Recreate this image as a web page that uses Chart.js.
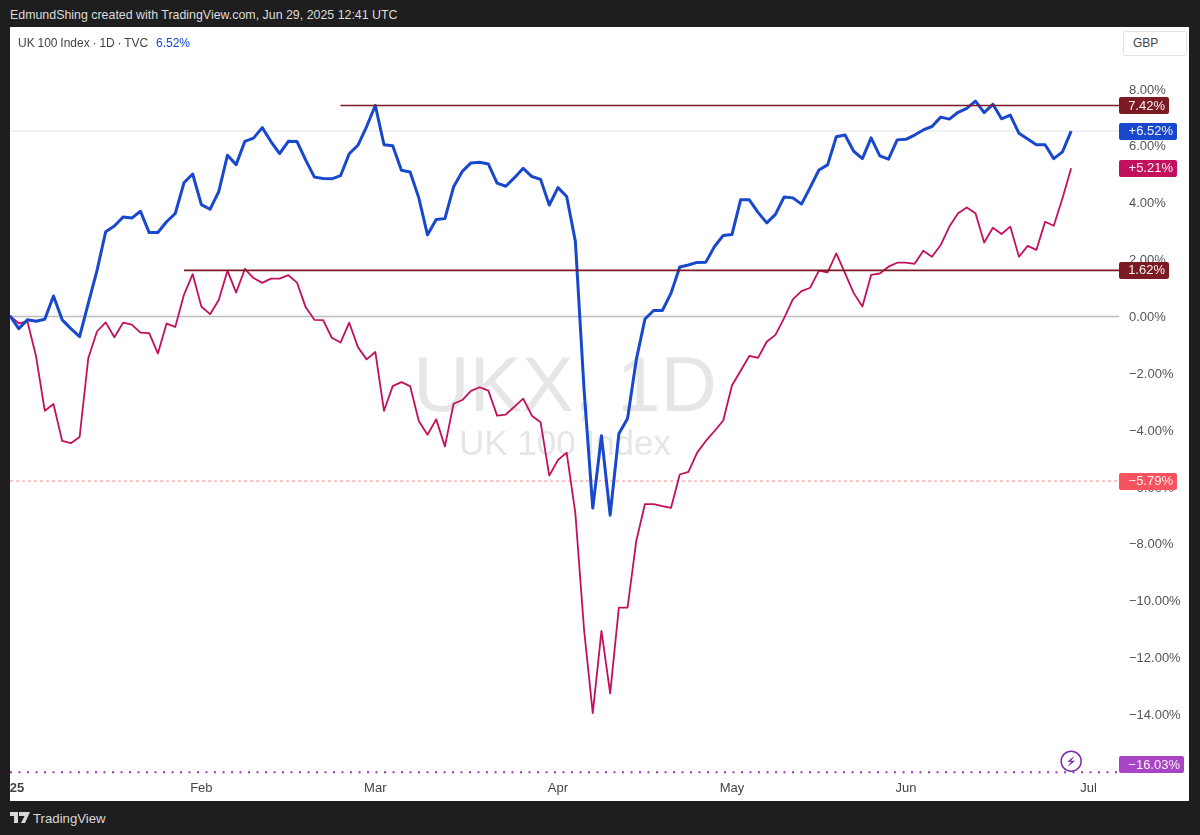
<!DOCTYPE html>
<html>
<head>
<meta charset="utf-8">
<style>
html,body{margin:0;padding:0;background:#1e1e1e;width:1200px;height:835px;overflow:hidden;font-family:"Liberation Sans",Arial,sans-serif}
#frame{position:absolute;left:10px;top:27px;width:1179px;height:774px;background:#fff}
canvas{position:absolute;left:0;top:0}
#hdr{position:absolute;left:10px;top:8px;font-size:12.4px;color:#dcdcdc;white-space:nowrap}
#leg{position:absolute;left:18px;top:36px;font-size:12px;word-spacing:-0.5px;color:#444;white-space:nowrap}
#leg b{font-weight:normal;color:#1848cc;margin-left:5px;word-spacing:0}
#cur{position:absolute;left:1123px;top:31px;width:62px;height:23px;line-height:23px;border:1px solid #e4e4e4;border-radius:2px;box-sizing:content-box;font-size:12px;color:#444;background:#fff;text-indent:9px}
#foot{position:absolute;left:33px;top:811px;font-size:13.2px;color:#d8d8d8;white-space:nowrap}
#logo{position:absolute;left:10px;top:811px}
</style>
<script src="https://cdn.jsdelivr.net/npm/chart.js@4"></script>
</head>
<body>
<div id="frame"><canvas id="c" width="1179" height="774"></canvas></div>
<div id="hdr">EdmundShing created with TradingView.com, Jun 29, 2025 12:41 UTC</div>
<div id="leg">UK 100 Index · 1D · TVC <b>6.52%</b></div>
<div id="cur">GBP</div>
<svg id="logo" width="20" height="13" viewBox="0 0 20 13"><path d="M0 1h8v11H4V5H0zM9 1h11l-5 11h-4l3.5-7H9z" fill="#d8d8d8"/><circle cx="11" cy="3" r="1.6" fill="#d8d8d8"/></svg>
<div id="foot">TradingView</div>
<script>
const monthLabels = ["25","Feb","Mar","Apr","May","Jun","Jul"];
const monthSessions = [0.8,22,42,63,83,103,124];
const yTickValues = [8,6,4,2,0,-2,-4,-6,-8,-10,-12,-14];
const ukxClose = [0.02,-0.43,-0.12,-0.17,-0.10,0.72,-0.12,-0.43,-0.71,0.46,1.61,2.98,3.18,3.50,3.46,3.70,2.95,2.95,3.33,3.62,4.70,5.01,3.93,3.77,4.39,5.67,5.34,6.16,6.27,6.64,6.15,5.73,6.16,6.15,5.50,4.90,4.85,4.84,4.95,5.72,6.02,6.68,7.42,6.04,6.00,5.14,5.08,4.17,2.87,3.41,3.44,4.56,5.10,5.40,5.42,5.36,4.69,4.58,4.88,5.21,4.92,4.82,3.92,4.53,4.22,2.64,-2.58,-6.74,-4.20,-6.99,-4.13,-3.59,-1.53,-0.09,0.21,0.21,0.82,1.74,1.81,1.90,1.91,2.46,2.85,2.88,4.10,4.10,3.66,3.29,3.59,4.20,4.17,3.95,4.54,5.15,5.33,6.32,6.38,5.81,5.55,6.28,5.65,5.53,6.21,6.23,6.38,6.56,6.68,7.01,6.94,7.18,7.32,7.57,7.17,7.46,6.95,7.08,6.44,6.24,6.04,6.04,5.55,5.79,6.52];
const comparison = [0.02,-0.24,-0.17,-1.41,-3.32,-3.08,-4.38,-4.46,-4.24,-1.47,-0.53,-0.21,-0.73,-0.22,-0.29,-0.57,-0.59,-1.30,-0.25,-0.37,0.76,1.49,0.35,0.08,0.58,1.61,0.84,1.67,1.35,1.18,1.33,1.33,1.45,1.19,0.32,-0.12,-0.13,-0.75,-0.92,-0.22,-1.08,-1.51,-1.25,-3.32,-2.45,-2.31,-2.45,-3.68,-4.16,-3.62,-4.57,-3.07,-2.94,-2.62,-2.49,-2.61,-3.49,-3.45,-3.17,-2.89,-3.49,-3.72,-5.60,-5.05,-4.79,-6.93,-11.02,-13.95,-11.06,-13.26,-10.24,-10.24,-7.90,-6.60,-6.60,-6.67,-6.73,-5.56,-5.47,-4.79,-4.38,-4.03,-3.66,-2.43,-1.91,-1.39,-1.46,-0.89,-0.65,-0.06,0.60,0.89,1.01,1.61,1.55,2.22,1.52,0.82,0.35,1.46,1.51,1.75,1.89,1.89,1.85,2.31,2.10,2.51,3.16,3.63,3.83,3.63,2.60,3.12,2.90,3.16,2.10,2.48,2.34,3.33,3.19,4.16,5.21];
const resistanceHigh = 7.42;
const resistanceHighStart = 38;
const resistanceLow = 1.62;
const resistanceLowStart = 20;
const lastUkx = 6.52;
const lastComparison = 5.21;
const drawdownUkx = -5.79;
const drawdownComparison = -16.03;
const baseline = 0;

const XMAX = 127.5;
const fmt = v => (v<0?"\u2212":"")+Math.abs(v).toFixed(2)+"%";
const sgn = v => (v<0?"\u2212":"+")+Math.abs(v).toFixed(2)+"%";
const series = a => a.map((y,x)=>({x,y}));
const hline = (y,s=0) => [{x:s,y},{x:XMAX,y}];

const badges = [
  {v:resistanceHigh,t:fmt(resistanceHigh),c:"#7b1a23",w:50},
  {v:lastUkx,t:sgn(lastUkx),c:"#1848cc",w:58},
  {v:lastComparison,t:sgn(lastComparison),c:"#c2105f",w:58},
  {v:resistanceLow,t:fmt(resistanceLow),c:"#7b1a23",w:50},
  {v:drawdownUkx,t:fmt(drawdownUkx),c:"#f7525f",w:58},
  {v:drawdownComparison,t:fmt(drawdownComparison),c:"#a845c4",w:65,dy:-7.5}
];

const overlay = {
  id:"overlay",
  beforeDatasetsDraw(ch){
    const g=ch.ctx; g.save();
    g.fillStyle="#e6e6e6"; g.textAlign="center"; g.textBaseline="alphabetic";
    g.font='78px "Liberation Sans"'; g.fillText("UKX, 1D",555,384);
    g.font='35px "Liberation Sans"'; g.fillText("UK 100 Index",555,428);
    g.restore();
  },
  afterDraw(ch){
    const g=ch.ctx,y=ch.scales.y,L=ch.chartArea.right; g.save();
    g.font='13px "Liberation Sans"'; g.textBaseline="middle"; g.textAlign="right";
    badges.forEach(b=>{
      const p=y.getPixelForValue(b.v)+(b.dy||0);
      g.fillStyle=b.c; g.beginPath(); g.roundRect(L,Math.round(p-8.5),b.w,17,2); g.fill();
      g.fillStyle="#f4f4f4"; g.fillText(b.t,L+b.w-4,p+0.5);
    });
    const cx=ch.scales.x.getPixelForValue(122), cy=y.getPixelForValue(drawdownComparison)-11;
    g.strokeStyle="#7b2da8"; g.lineWidth=1.5; g.beginPath(); g.arc(cx,cy,10,0,Math.PI*2); g.stroke();
    g.fillStyle="#7b2da8"; g.beginPath();
    g.moveTo(cx+3.5,cy-5.5); g.lineTo(cx-4,cy+0.5); g.lineTo(cx,cy+0.5); g.lineTo(cx-3.5,cy+5.5); g.lineTo(cx+4,cy-0.5); g.lineTo(cx,cy-0.5); g.closePath(); g.fill();
    g.restore();
  }
};

new Chart(document.getElementById("c"),{
  type:"line",
  data:{datasets:[
    {label:"High",data:hline(resistanceHigh,resistanceHighStart),borderColor:"#7b1a23",borderWidth:1.6},
    {label:"Low",data:hline(resistanceLow,resistanceLowStart),borderColor:"#7b1a23",borderWidth:1.6},
    {label:"UKX",data:series(ukxClose),borderColor:"#1848cc",borderWidth:3},
    {label:"Comparison",data:series(comparison),borderColor:"#c2105f",borderWidth:1.8},
    {label:"Zero",data:hline(baseline),borderColor:"#bdbdbd",borderWidth:1.5},
    {label:"Last",data:hline(lastUkx),borderColor:"#dfe3ec",borderWidth:1},
    {label:"DD1",data:hline(drawdownUkx),borderColor:"#f7909a",borderWidth:1,borderDash:[3,3]},
    {label:"DD2",data:hline(drawdownComparison),borderColor:"#a030c0",borderWidth:2,borderDash:[2,6.5]}
  ]},
  plugins:[overlay],
  options:{
    responsive:false,animation:false,devicePixelRatio:1,
    layout:{padding:0,autoPadding:false},
    elements:{point:{radius:0},line:{tension:0,borderJoinStyle:"round"}},
    plugins:{legend:{display:false},tooltip:{enabled:false}},
    scales:{
      x:{type:"linear",min:0,max:XMAX,
        grid:{display:false,drawTicks:false},border:{display:false},
        afterBuildTicks(s){s.ticks=monthSessions.map(value=>({value}));},
        afterFit(s){s.height=20;s.paddingLeft=0;s.paddingRight=0;},
        ticks:{autoSkip:false,maxRotation:0,padding:0,color:"#444",
          font:c=>({family:"Liberation Sans",size:13,weight:c.index===0?"bold":"normal"}),
          callback:(v,i)=>monthLabels[i]}
      },
      y:{type:"linear",position:"right",min:-16.34,max:10.18,
        grid:{display:false,drawTicks:false},border:{display:false},
        afterBuildTicks(s){s.ticks=yTickValues.map(value=>({value}));},
        afterFit(s){s.width=70;s.paddingTop=0;s.paddingBottom=0;},
        ticks:{autoSkip:false,crossAlign:"near",padding:10,labelOffset:1,color:"#555",font:{family:"Liberation Sans",size:13},callback:v=>fmt(v)}
      }
    }
  }
});
</script>
</body>
</html>
